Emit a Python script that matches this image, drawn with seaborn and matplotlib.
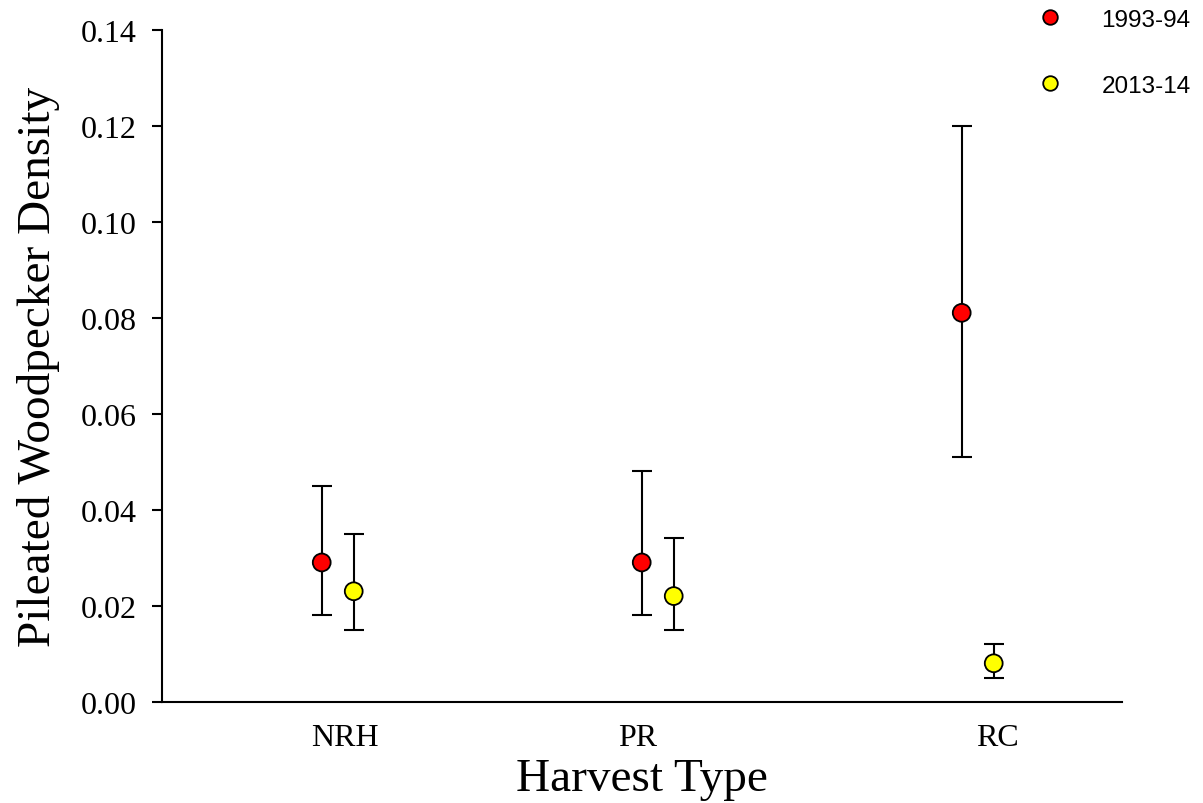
import matplotlib
matplotlib.use("Agg")
import matplotlib.pyplot as plt
from matplotlib.lines import Line2D
from matplotlib.ticker import FormatStrFormatter
import numpy as np
import pandas as pd
import seaborn as sns

# Pileated woodpecker density by harvest type, two survey periods
harvest_types = ["NRH", "PR", "RC"]
periods = ["1993-94", "2013-14"]
density_1993 = [0.029, 0.029, 0.081]
lower_1993 = [0.018, 0.018, 0.051]
upper_1993 = [0.045, 0.048, 0.120]
density_2013 = [0.023, 0.022, 0.008]
lower_2013 = [0.015, 0.015, 0.005]
upper_2013 = [0.035, 0.034, 0.012]
y_ticks = [0.00, 0.02, 0.04, 0.06, 0.08, 0.10, 0.12, 0.14]

colors = {"1993-94": "#ff0000", "2013-14": "#ffff00"}
offsets = {"1993-94": -0.05, "2013-14": 0.05}
label_pos = [0.023, 0.938, 2.062]

df = pd.DataFrame({
    "harvest": harvest_types * 2,
    "period": [periods[0]] * 3 + [periods[1]] * 3,
    "density": density_1993 + density_2013,
    "lower": lower_1993 + lower_2013,
    "upper": upper_1993 + upper_2013,
})
df["x"] = df["harvest"].map({h: i for i, h in enumerate(harvest_types)}) + df["period"].map(offsets)

sns.set_style("white")
plt.rcParams["font.family"] = ["Liberation Serif", "DejaVu Serif"]
plt.rcParams["text.color"] = "black"
plt.rcParams["axes.labelcolor"] = "black"

fig = plt.figure(figsize=(12.03, 8.04), dpi=100)
ax = fig.add_axes([0.1347, 0.126, 0.798, 0.836])

for p in periods:
    sub = df[df["period"] == p]
    ax.errorbar(sub["x"], sub["density"],
                yerr=[sub["density"] - sub["lower"], sub["upper"] - sub["density"]],
                fmt="none", ecolor="black", elinewidth=1.5, capsize=7.5, capthick=1.5,
                zorder=2)

sns.scatterplot(data=df, x="x", y="density", hue="period", palette=colors,
                s=165, edgecolor="black", linewidth=1.3, legend=False, zorder=3, ax=ax)

ax.set_xlim(-0.549, 2.451)
ax.set_ylim(0, 0.14)
ax.set_yticks(y_ticks)
ax.yaxis.set_major_formatter(FormatStrFormatter("%.2f"))
ax.set_xticks(label_pos)
ax.set_xticklabels(harvest_types)

for side in ["top", "right"]:
    ax.spines[side].set_visible(False)
for side in ["left", "bottom"]:
    ax.spines[side].set_linewidth(1.5)
    ax.spines[side].set_color("black")

ax.tick_params(axis="y", direction="out", length=7, width=1.5, pad=11,
               labelsize=23, left=True, colors="black")
ax.tick_params(axis="x", length=0, pad=15, labelsize=23, colors="black")

ax.set_xlabel("Harvest Type", fontsize=34, labelpad=4)
ax.set_ylabel("Pileated Woodpecker Density", fontsize=34, labelpad=15)

handles = [Line2D([0], [0], marker="o", linestyle="none", markersize=10.5,
                  markerfacecolor=colors[p], markeredgecolor="black",
                  markeredgewidth=1.3) for p in periods]
fig.legend(handles, periods, loc="upper left", bbox_to_anchor=(0.855, 1.0),
           frameon=False, prop={"family": "Liberation Sans", "size": 17.5},
           labelspacing=1.8, handletextpad=1.6, handlelength=1.0,
           borderaxespad=0)

fig.savefig("out.png", dpi=100, facecolor="white")
